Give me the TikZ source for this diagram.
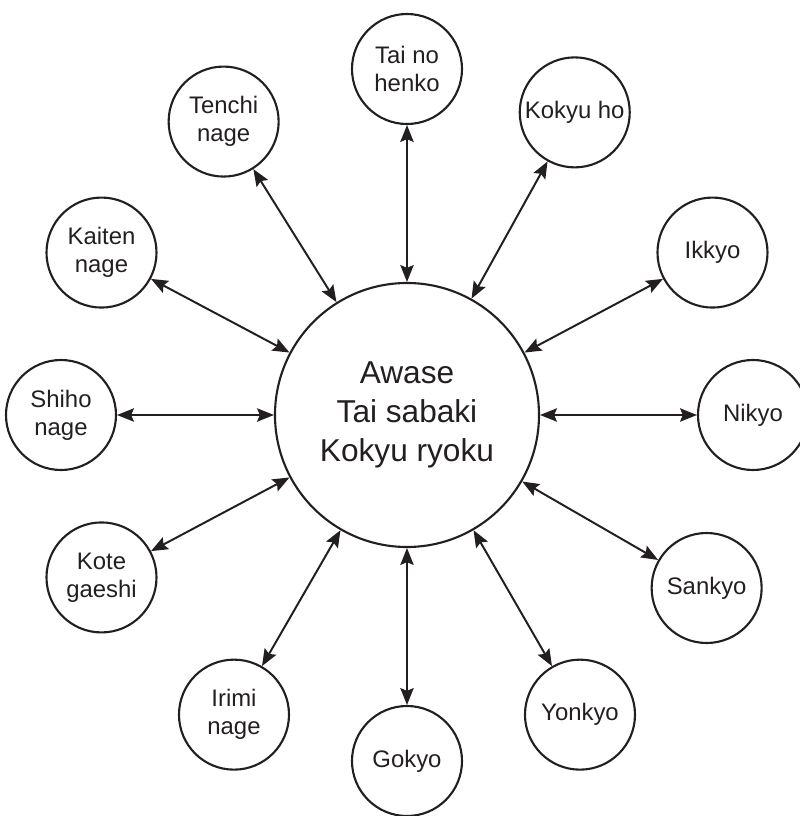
\documentclass[tikz,border=0pt]{standalone}
\usepackage{fontspec}
\setmainfont{Liberation Sans}
\usepackage{xcolor}
\usepackage{tikz}
\usetikzlibrary{arrows.meta}
\definecolor{inchiostro}{HTML}{231F20}

\begin{document}
\begin{tikzpicture}[
    tecnica/.style={circle, draw=inchiostro, line width=1.5pt, minimum size=2.75cm, inner sep=0pt,
      align=center, text=inchiostro, font=\fontsize{17}{20}\selectfont},
    principio/.style={circle, draw=inchiostro, line width=1.5pt, minimum size=6.6cm, inner sep=0pt,
      align=center, text=inchiostro, font=\fontsize{22.5}{27.5}\selectfont},
    freccia/.style={inchiostro, line width=1.4pt, {Stealth[length=12pt,width=9.5pt,inset=2pt]}-{Stealth[length=12pt,width=9.5pt,inset=2pt]}}
  ]
  \useasboundingbox (-10.175,-10.025) rectangle (9.825,10.375);
  % Cerchio centrale
  \node[principio] (centro) at (0,0) {Awase\\Tai sabaki\\Kokyu ryoku};
  % Tecniche intorno
  \foreach \ang/\nome/\testo in {90/taino/{Tai no\\henko}, 61/kokyu/{Kokyu ho}, 28/ikkyo/Ikkyo,
      0/nikyo/Nikyo, -30/sankyo/Sankyo, -60/yonkyo/Yonkyo, -90/gokyo/Gokyo,
      -120/irimi/{Irimi\\nage}, -152/kote/{Kote\\gaeshi}, 180/shiho/{Shiho\\nage},
      152/kaiten/{Kaiten\\nage}, 122/tenchi/{Tenchi\\nage}} {
    \node[tecnica] (\nome) at (\ang:8.65) {\testo};
    \draw[freccia] (centro) -- (\nome);
  }
\end{tikzpicture}
\end{document}
